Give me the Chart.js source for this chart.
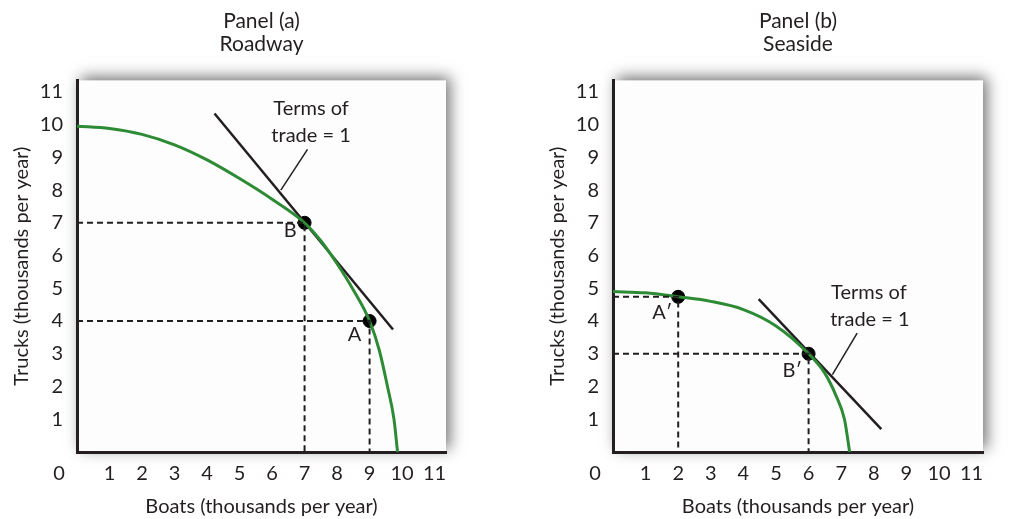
<!DOCTYPE html>
<html lang="en">
<head>
<meta charset="UTF-8">
<title>Terms of trade</title>
<script src="https://cdn.jsdelivr.net/npm/chart.js"></script>
<style>
  body { margin: 0; background: #fff; width: 1010px; height: 519px; overflow: hidden; position: relative; }
  .panel { position: absolute; top: 0; width: 505px; height: 519px; }
  #panelA { left: 0; }
  #panelB { left: 505px; }
</style>
</head>
<body>
<div class="panel" id="panelA"><canvas id="chartA" width="505" height="519"></canvas></div>
<div class="panel" id="panelB"><canvas id="chartB" width="505" height="519"></canvas></div>

<script>
// shared axes
const axisTicks = [1, 2, 3, 4, 5, 6, 7, 8, 9, 10, 11];
const axisMax = 11.35;

// Panel (a) Roadway
const roadBoats  = [0, 1, 2, 3, 4, 5, 6, 7, 7.5, 8, 8.5, 9, 9.3, 9.55, 9.75, 9.86];
const roadTrucks = [9.95, 9.88, 9.7, 9.38, 8.92, 8.35, 7.72, 7.0, 6.45, 5.75, 4.95, 4.0, 3.1, 2.0, 1.0, 0];
const roadTangentX = [4.23, 9.72];
const roadTangentY = [10.34, 3.74];
const roadPointer = { x: [7.09, 6.27], y: [9.24, 8.0] };
const roadPoints = { name: ['A', 'B'], x: [9, 7], y: [4, 7] };
const roadNameAt = { x: [8.54, 6.56], y: [3.6, 6.77] };
const roadNote = { text: ['Terms of', 'trade = 1'], x: [7.2, 7.2], y: [10.48, 9.66] };

// Panel (b) Seaside
const seaBoats  = [0, 1, 2, 3, 4, 5, 6, 6.5, 6.85, 7.1, 7.26];
const seaTrucks = [4.9, 4.86, 4.74, 4.6, 4.35, 3.85, 3.0, 2.4, 1.7, 1.0, 0];
const seaTangentX = [4.47, 8.23];
const seaTangentY = [4.67, 0.70];
const seaPointer = { x: [7.49, 6.73], y: [3.63, 2.36] };
const seaPoints = { name: ['A\u2032', 'B\u2032'], x: [2, 6], y: [4.74, 3] };
const seaNameAt = { x: [1.51, 5.5], y: [4.26, 2.49] };
const seaNote = { text: ['Terms of', 'trade = 1'], x: [7.85, 7.88], y: [4.88, 4.06] };

const ink = '#231f20';
const green = '#2e8b35';
const face = 'Lato, "Open Sans", sans-serif';
Chart.defaults.font.family = face;
Chart.defaults.font.size = 20;
Chart.defaults.color = ink;

function pts(xs, ys) {
  return xs.map((x, i) => ({ x: x, y: ys[i] }));
}

function dashed(px, py) {
  return {
    data: [{ x: 0, y: py }, { x: px, y: py }, { x: px, y: 0 }],
    showLine: true, borderColor: ink, borderWidth: 2, borderDash: [6, 4], pointRadius: 0
  };
}

// shadowed plot box, drawn under everything
const boxShadow = {
  id: 'boxShadow',
  beforeDraw(chart) {
    const a = chart.chartArea, ctx = chart.ctx;
    ctx.save();
    ctx.shadowColor = 'rgba(0,0,0,0.55)';
    ctx.shadowBlur = 14;
    ctx.shadowOffsetX = 4;
    ctx.shadowOffsetY = -3;
    ctx.fillStyle = '#fdfdfd';
    ctx.fillRect(a.left, a.top, a.right - a.left, a.bottom - a.top);
    ctx.restore();
  }
};

// point names, note text and the lone "0" at the corner
const annotations = {
  id: 'annotations',
  afterDraw(chart) {
    const o = chart.options.plugins.annotations;
    const xs = chart.scales.x, ys = chart.scales.y, ctx = chart.ctx;
    ctx.save();
    ctx.fillStyle = ink;
    ctx.font = '20px ' + face;
    ctx.textAlign = 'center';
    ctx.textBaseline = 'middle';
    o.names.forEach((n, i) => ctx.fillText(n, xs.getPixelForValue(o.nameAt.x[i]), ys.getPixelForValue(o.nameAt.y[i])));
    o.note.text.forEach((t, i) => ctx.fillText(t, xs.getPixelForValue(o.note.x[i]), ys.getPixelForValue(o.note.y[i])));
    ctx.fillText('0', xs.left - 18, xs.top + 22);
    ctx.restore();
  }
};

function makePanel(id, title, padLeft, padRight, curve, tangent, pointer, dots, dashes, names, nameAt, note) {
  return new Chart(document.getElementById(id), {
    type: 'scatter',
    data: {
      datasets: [
        dashed(dashes[0][0], dashes[0][1]),
        dashed(dashes[1][0], dashes[1][1]),
        { data: curve, showLine: true, borderColor: green, borderWidth: 3, pointRadius: 0, cubicInterpolationMode: 'monotone' },
        { data: tangent, showLine: true, borderColor: ink, borderWidth: 2.5, pointRadius: 0 },
        { data: pointer, showLine: true, borderColor: ink, borderWidth: 1.5, pointRadius: 0 },
        { data: dots, pointRadius: 6.5, backgroundColor: '#000', borderColor: '#000' }
      ]
    },
    options: {
      responsive: false,
      animation: false,
      layout: { padding: { left: padLeft, right: padRight, top: 0, bottom: 0 } },
      scales: {
        x: {
          type: 'linear', min: 0, max: axisMax,
          afterBuildTicks: s => { s.ticks = axisTicks.map(v => ({ value: v })); },
          afterFit: s => { s.height = 67; },
          grid: { display: false, drawTicks: false },
          border: { color: ink, width: 3 },
          ticks: { padding: 10, maxRotation: 0 },
          title: { display: true, text: 'Boats (thousands per year)', padding: { top: 0, bottom: 0 } }
        },
        y: {
          type: 'linear', min: 0, max: axisMax,
          afterBuildTicks: s => { s.ticks = axisTicks.map(v => ({ value: v })); },
          afterFit: s => { s.width = 77; },
          grid: { display: false, drawTicks: false },
          border: { color: ink, width: 3 },
          ticks: { padding: 14 },
          title: { display: true, text: 'Trucks (thousands per year)', padding: { top: 10, bottom: 0 } }
        }
      },
      plugins: {
        legend: { display: false },
        tooltip: { enabled: false },
        title: {
          display: true, text: title, fullSize: false, color: ink,
          font: { size: 21, weight: 'normal', lineHeight: 1.08 },
          padding: { top: 10, bottom: 25 }
        },
        annotations: { names: names, nameAt: nameAt, note: note }
      }
    },
    plugins: [boxShadow, annotations]
  });
}

makePanel('chartA', ['Panel (a)', 'Roadway'], 0, 59,
  pts(roadBoats, roadTrucks), pts(roadTangentX, roadTangentY), pts(roadPointer.x, roadPointer.y),
  pts(roadPoints.x, roadPoints.y), [[7, 7], [9, 4]], roadPoints.name, roadNameAt, roadNote);

makePanel('chartB', ['Panel (b)', 'Seaside'], 31, 27,
  pts(seaBoats, seaTrucks), pts(seaTangentX, seaTangentY), pts(seaPointer.x, seaPointer.y),
  pts(seaPoints.x, seaPoints.y), [[2, 4.74], [6, 3]], seaPoints.name, seaNameAt, seaNote);
</script>
</body>
</html>
